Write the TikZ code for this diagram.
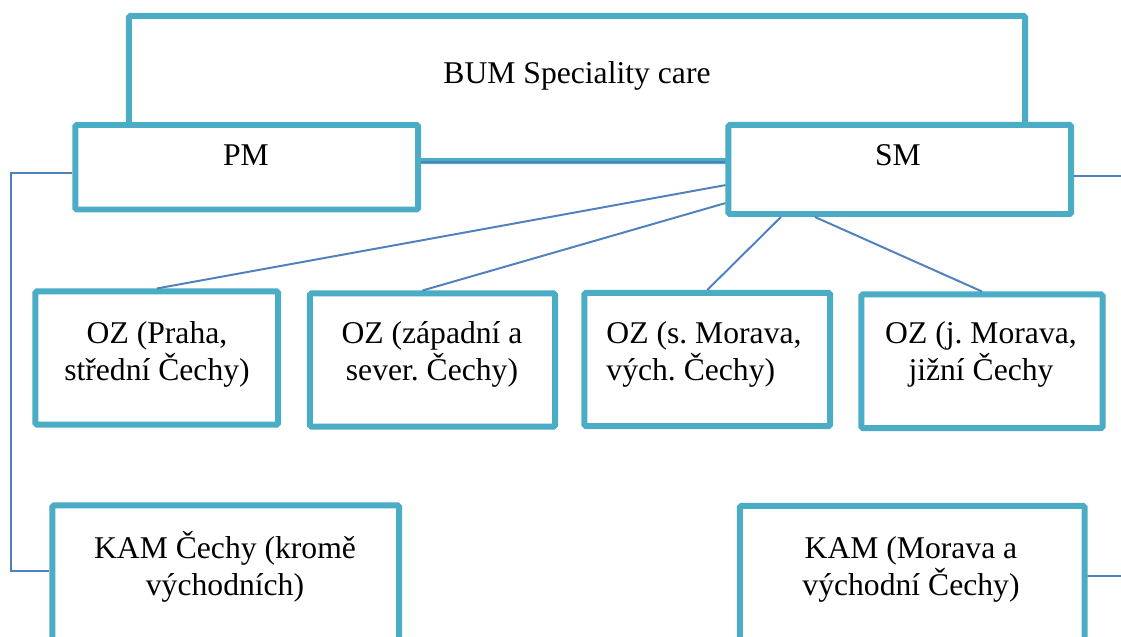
\documentclass[tikz,border=0pt]{standalone}
\usepackage{fontspec}
\setmainfont{Liberation Serif}
\frenchspacing
\definecolor{boxteal}{RGB}{75,172,198}
\definecolor{linkblue}{RGB}{79,129,189}

\begin{document}
\begin{tikzpicture}[x=0.025cm, y=-0.025cm,
  box/.style={draw=boxteal, line width=4.25pt, fill=white, rounded corners=1pt, inner sep=0pt},
  link/.style={draw=linkblue, line width=1.4pt},
  txt/.style={font=\fontsize{22.5}{26.2}\selectfont, align=center, anchor=base, inner sep=0pt}]
\clip (0,0) rectangle (1121,637);

% management level
\node[box, minimum width=22.4cm, minimum height=3.625cm] (bum) at (577,88.5) {};
\node[txt] (bumtext) at (577,84) {BUM Speciality care};
\node[box, minimum width=8.5625cm, minimum height=2.1125cm] (pm) at (246.75,167.25) {};
\node[txt] (pmtext) at (246,166) {PM};
\node[box, minimum width=8.5625cm, minimum height=2.225cm] (sm) at (899.75,169.5) {};
\node[txt] (smtext) at (898,166) {SM};

% regional reps (base = last line)
\node[box, minimum width=6.0625cm, minimum height=3.325cm] (oz1) at (156.75,358) {};
\node[txt] (oz1text) at (157,380) {OZ (Praha,\\střední Čechy)};
\node[box, minimum width=6.125cm, minimum height=3.325cm] (oz2) at (432.5,360) {};
\node[txt] (oz2text) at (432,380) {OZ (západní a\\sever. Čechy)};
\node[box, minimum width=6.1375cm, minimum height=3.325cm] (oz3) at (707.25,359.5) {};
\node[txt, align=left] (oz3text) at (704,380) {OZ (s. Morava,\\vých. Čechy)};
\node[box, minimum width=6.025cm, minimum height=3.3375cm] (oz4) at (982,361.25) {};
\node[txt] (oz4text) at (981,380) {OZ (j. Morava,\\jižní Čechy};

% key account managers
\node[box, minimum width=8.6625cm, minimum height=3.8625cm] (kam1) at (225.75,582.75) {};
\node[txt] (kam1text) at (225,595) {KAM Čechy (kromě\\východních)};
\node[box, minimum width=8.6125cm, minimum height=3.85cm] (kam2) at (912.25,583) {};
\node[txt] (kam2text) at (911,595) {KAM (Morava a\\východní Čechy)};

% connectors
\coordinate (rail) at (11,0);
\coordinate (smout) at (1125,176);
\coordinate (kam2out) at (1125,576);
\draw[link] ([yshift=0.13cm]pm.east) -- ([yshift=0.13cm]pm.east -| sm.west);
\draw[link] ([yshift=-0.39cm]sm.west) -- (oz1.north);
\draw[link] ([yshift=-0.84cm]sm.west) -- ([xshift=-0.25cm]oz2.north);
\draw[link] ([xshift=-2.97cm]sm.south) -- (oz3.north);
\draw[link] ([xshift=-2.12cm]sm.south) -- (oz4.north);
\draw[link] ([yshift=-0.14cm]pm.west) -- ([yshift=-0.14cm]pm.west -| rail)
  |- ([yshift=0.29cm]kam1.west);
\draw[link] ([yshift=-0.1625cm]sm.east) -- (smout);
\draw[link] ([yshift=0.175cm]kam2.east) -- (kam2out);
\end{tikzpicture}
\end{document}
